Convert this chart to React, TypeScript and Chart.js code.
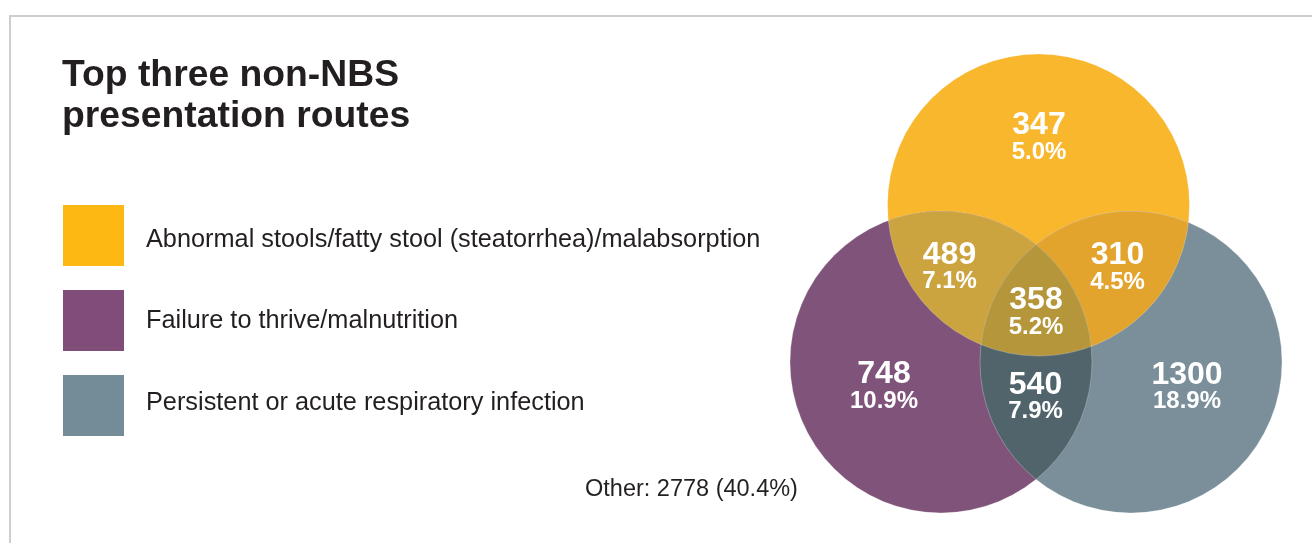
import React, { useEffect, useRef } from "react";
import { Chart, registerables } from "chart.js";

Chart.register(...registerables);

// ---------- data ----------
const titleLines = ["Top three non-NBS", "presentation routes"];

const categories = [
  "Abnormal stools/fatty stool (steatorrhea)/malabsorption",
  "Failure to thrive/malnutrition",
  "Persistent or acute respiratory infection",
];

// Venn regions: which categories (by index) each region belongs to
const regionSets = [[0], [0, 1], [0, 2], [0, 1, 2], [1], [1, 2], [2]];
const regionCounts = [347, 489, 310, 358, 748, 540, 1300];
const regionPercents = [5.0, 7.1, 4.5, 5.2, 10.9, 7.9, 18.9];

const otherCount = 2778;
const otherPercent = 40.4;

// ---------- layout (data units of the hidden scales) ----------
const AXIS_MIN = -5;
const AXIS_MAX = 5;
const PAD = { left: 786, right: 26, top: 33, bottom: 10 };
const setCenterX = [0.05, -1.9, 1.9];
const setCenterY = [1.56, -1.58, -1.58];
const setRadius = 3.02;
const regionLabelX = [0.06, -1.73, 1.63, 0.0, -3.04, -0.01, 3.02];
const regionLabelY = [2.93, 0.34, 0.33, -0.57, -2.05, -2.26, -2.06];

// ---------- styles ----------
const legendColors = ["#FDB813", "#7F4D78", "#748C97"];
const circleColors = ["#F8B72C", "#80547A", "#7A8F99"];
const regionColors = ["", "#CBA43F", "#E2A42D", "#B5963A", "", "#52646B", ""];
const FONT = '"Liberation Sans", Arial, Helvetica, sans-serif';
const TEXT_COLOR = "#231F20";

// pixel radius of a set circle; uses the x scale once it is laid out,
// otherwise the same value derived from the scale's configured range
function pxRadius(chart: any): number {
  const xs = chart.scales && chart.scales.x;
  if (xs && xs.width > 0) {
    return Math.abs(xs.getPixelForValue(setRadius) - xs.getPixelForValue(0));
  }
  const w = chart.width - PAD.left - PAD.right;
  return (setRadius * w) / (AXIS_MAX - AXIS_MIN);
}

const vennPlugin = {
  id: "vennRegions",
  afterDatasetsDraw(chart: any) {
    const ctx: CanvasRenderingContext2D = chart.ctx;
    const xs = chart.scales.x;
    const ys = chart.scales.y;
    const r = pxRadius(chart);
    const cx = setCenterX.map((v) => xs.getPixelForValue(v));
    const cy = setCenterY.map((v) => ys.getPixelForValue(v));
    const circlePath = (i: number) => {
      ctx.beginPath();
      ctx.arc(cx[i], cy[i], r, 0, Math.PI * 2);
      ctx.closePath();
    };

    // overlap regions, drawn from pairwise up to the triple
    const order = regionSets
      .map((s, i) => i)
      .filter((i) => regionSets[i].length > 1)
      .sort((a, b) => regionSets[a].length - regionSets[b].length);
    order.forEach((i) => {
      const sets = regionSets[i];
      ctx.save();
      for (let k = 0; k < sets.length - 1; k++) {
        circlePath(sets[k]);
        ctx.clip();
      }
      circlePath(sets[sets.length - 1]);
      ctx.fillStyle = regionColors[i];
      ctx.fill();
      ctx.restore();
    });

    // faint boundaries
    ctx.save();
    ctx.strokeStyle = "rgba(255,255,255,0.3)";
    ctx.lineWidth = 0.8;
    for (let i = 0; i < 3; i++) {
      circlePath(i);
      ctx.stroke();
    }
    ctx.restore();

    // labels
    ctx.save();
    ctx.fillStyle = "#FFFFFF";
    ctx.textAlign = "center";
    ctx.textBaseline = "alphabetic";
    regionCounts.forEach((count, i) => {
      const x = xs.getPixelForValue(regionLabelX[i]);
      const y = ys.getPixelForValue(regionLabelY[i]);
      ctx.font = `bold 32px ${FONT}`;
      const t1 = String(count);
      const m1 = ctx.measureText(t1);
      ctx.fillText(t1, x, y - 13.5 + m1.actualBoundingBoxAscent / 2);
      ctx.font = `bold 24px ${FONT}`;
      const t2 = `${regionPercents[i].toFixed(1)}%`;
      const m2 = ctx.measureText(t2);
      ctx.fillText(t2, x, y + 13.5 + m2.actualBoundingBoxAscent / 2);
    });
    ctx.restore();
  },
};

function textTop(baseline: number, size: number) {
  return baseline - 0.8465 * size;
}

export default function App() {
  const canvasRef = useRef<HTMLCanvasElement | null>(null);

  useEffect(() => {
    if (!canvasRef.current) return;
    const chart = new Chart(canvasRef.current, {
      type: "bubble",
      data: {
        labels: categories,
        datasets: [
          {
            label: "Sets",
            data: setCenterX.map((x, i) => ({ x, y: setCenterY[i] })) as any,
            backgroundColor: circleColors,
            borderWidth: 0,
            radius: (c: any) => pxRadius(c.chart),
            hoverRadius: 0,
            clip: false as any,
          } as any,
        ],
      },
      options: {
        responsive: false,
        animation: false,
        events: [],
        layout: { padding: PAD, autoPadding: false } as any,
        scales: {
          x: { type: "linear", min: AXIS_MIN, max: AXIS_MAX, display: false },
          y: { type: "linear", min: AXIS_MIN, max: AXIS_MAX, display: false },
        },
        plugins: {
          legend: { display: false },
          tooltip: { enabled: false },
          title: { display: false },
        },
      },
      plugins: [vennPlugin],
    });
    return () => chart.destroy();
  }, []);

  const legendTops = [205, 290, 375];
  const legendBaselines = [247.3, 328.6, 410.8];

  return (
    <div
      style={{
        position: "absolute",
        left: 0,
        top: 0,
        width: 1312,
        height: 543,
        overflow: "hidden",
        background: "#FFFFFF",
        fontFamily: FONT,
        color: TEXT_COLOR,
      }}
    >
      <div
        style={{
          position: "absolute",
          left: 9,
          top: 15,
          width: 1400,
          height: 600,
          borderTop: "2px solid #CFCDCA",
          borderLeft: "2px solid #CFCDCA",
        }}
      />
      <canvas
        ref={canvasRef}
        width={1312}
        height={543}
        style={{ position: "absolute", left: 0, top: 0, width: 1312, height: 543 }}
      />
      {titleLines.map((line, i) => (
        <div
          key={line}
          style={{
            position: "absolute",
            left: 62,
            top: textTop(86.7 + i * 41, 37.3),
            fontSize: 37.3,
            fontWeight: 700,
            lineHeight: 1,
            whiteSpace: "nowrap",
          }}
        >
          {line}
        </div>
      ))}
      {categories.map((cat, i) => (
        <React.Fragment key={cat}>
          <div
            style={{
              position: "absolute",
              left: 63,
              top: legendTops[i],
              width: 61,
              height: 61,
              background: legendColors[i],
            }}
          />
          <div
            style={{
              position: "absolute",
              left: 146,
              top: textTop(legendBaselines[i], 25.3),
              fontSize: 25.3,
              lineHeight: 1,
              whiteSpace: "nowrap",
            }}
          >
            {cat}
          </div>
        </React.Fragment>
      ))}
      <div
        style={{
          position: "absolute",
          left: 585,
          top: textTop(497.3, 23.5),
          fontSize: 23.5,
          lineHeight: 1,
          whiteSpace: "nowrap",
        }}
      >
        {`Other: ${otherCount} (${otherPercent.toFixed(1)}%)`}
      </div>
    </div>
  );
}
